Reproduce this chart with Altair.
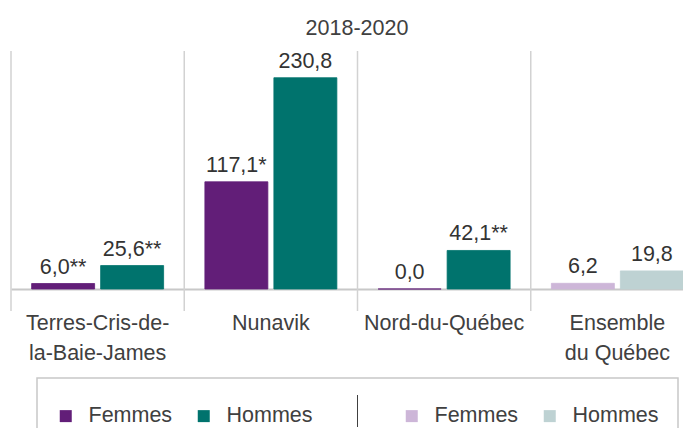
import altair as alt
import pandas as pd

categories = ["Terres-Cris-de-la-Baie-James", "Nunavik", "Nord-du-Québec", "Ensemble du Québec"]
femmes = [6.0, 117.1, 0.0, 6.2]
hommes = [25.6, 230.8, 42.1, 19.8]
femmes_labels = ["6,0**", "117,1*", "0,0", "6,2"]
hommes_labels = ["25,6**", "230,8", "42,1**", "19,8"]
sexes = ["Femmes", "Hommes"]
subtitle = ["2018-2020"]

dark_colors = ["#621E78", "#00736D"]
light_colors = ["#CDB6D8", "#BED2D3"]

rows = []
for i, c in enumerate(categories):
    rows.append({"region": c, "sexe": "Femmes", "taux": femmes[i], "label": femmes_labels[i]})
    rows.append({"region": c, "sexe": "Hommes", "taux": hommes[i], "label": hommes_labels[i]})
df = pd.DataFrame(rows)
df_reg = df[df.region != "Ensemble du Québec"]
df_qc = df[df.region == "Ensemble du Québec"]

FONT = "Liberation Sans, Arial, sans-serif"
FS = 21.5
TEXT = "#404040"
W, H = 693, 238

label_expr = ("datum.value == 'Terres-Cris-de-la-Baie-James' ? ['Terres-Cris-de-', 'la-Baie-James'] : "
              "datum.value == 'Ensemble du Québec' ? ['Ensemble', 'du Québec'] : datum.value")

x_scale = alt.Scale(domain=categories, paddingInner=0, paddingOuter=0)
x_axis = alt.Axis(title=None, ticks=False, domainColor="#C8C8C8", domainWidth=2,
                  labelFont=FONT, labelFontSize=FS, labelColor=TEXT, labelPadding=23,
                  labelLineHeight=30, labelExpr=label_expr, labelAngle=0)


def xenc(**kw):
    return alt.X("region:N", sort=categories, scale=x_scale, axis=x_axis, **kw)


xoff = alt.XOffset("sexe:N", sort=sexes,
                   scale=alt.Scale(domain=sexes, paddingInner=0.087, paddingOuter=0.299))
yenc = alt.Y("taux:Q", scale=alt.Scale(domain=[0, 260]), axis=None)

sep = alt.Chart(pd.DataFrame({"region": categories})).mark_rule(
    color="#D2D2D2", strokeWidth=1.5
).encode(x=xenc(bandPosition=0), y=alt.value(0), y2=alt.value(260))

leg_common = dict(orient="none", direction="horizontal", title=None, symbolType="square",
                  symbolSize=144, symbolStrokeWidth=0, labelFont=FONT, labelFontSize=FS,
                  labelColor=TEXT, padding=0, labelOffset=12, columnPadding=20, legendY=354)

bars_reg = alt.Chart(df_reg).mark_bar(strokeWidth=0.8).encode(
    x=xenc(), xOffset=xoff, y=yenc,
    color=alt.Color("sexe:N", scale=alt.Scale(domain=sexes, range=dark_colors),
                    legend=alt.Legend(legendX=44, **leg_common)),
    stroke=alt.Stroke("sexe:N", scale=alt.Scale(domain=sexes, range=dark_colors), legend=None),
)

bars_qc = alt.Chart(df_qc).mark_bar(strokeWidth=0.8).encode(
    x=xenc(), xOffset=xoff, y=yenc,
    color=alt.Color("sexe:N", scale=alt.Scale(domain=sexes, range=light_colors),
                    legend=alt.Legend(legendX=390, **leg_common)),
    stroke=alt.Stroke("sexe:N", scale=alt.Scale(domain=sexes, range=light_colors), legend=None),
)

values = alt.Chart(df).mark_text(
    font=FONT, fontSize=FS, color="#333333", dy=-10, baseline="alphabetic"
).encode(x=xenc(), xOffset=xoff, y=yenc, text="label:N")

title = alt.Chart(pd.DataFrame({"t": subtitle})).mark_text(
    font=FONT, fontSize=FS, color=TEXT, baseline="alphabetic", align="center"
).encode(text="t:N", x=alt.value(346), y=alt.value(-16))

box = alt.Chart(pd.DataFrame({"b": [1]})).mark_rect(
    fillOpacity=0, stroke="#C8C8C8", strokeWidth=1.5
).encode(x=alt.value(26), x2=alt.value(667), y=alt.value(327), y2=alt.value(400))

divider = alt.Chart(pd.DataFrame({"b": [1]})).mark_rule(
    color="#404040", strokeWidth=1
).encode(x=alt.value(346.5), y=alt.value(344), y2=alt.value(376))

chart = alt.layer(sep, box, divider, bars_reg, bars_qc, values, title).resolve_scale(
    color="independent", stroke="independent"
).properties(
    width=W, height=H,
    autosize=alt.AutoSizeParams(type="none"),
    padding={"left": 3, "top": 43, "right": -21, "bottom": 139},
).configure_view(stroke=None)

chart.save("out.html", embed_options={"renderer": "svg", "actions": False})
